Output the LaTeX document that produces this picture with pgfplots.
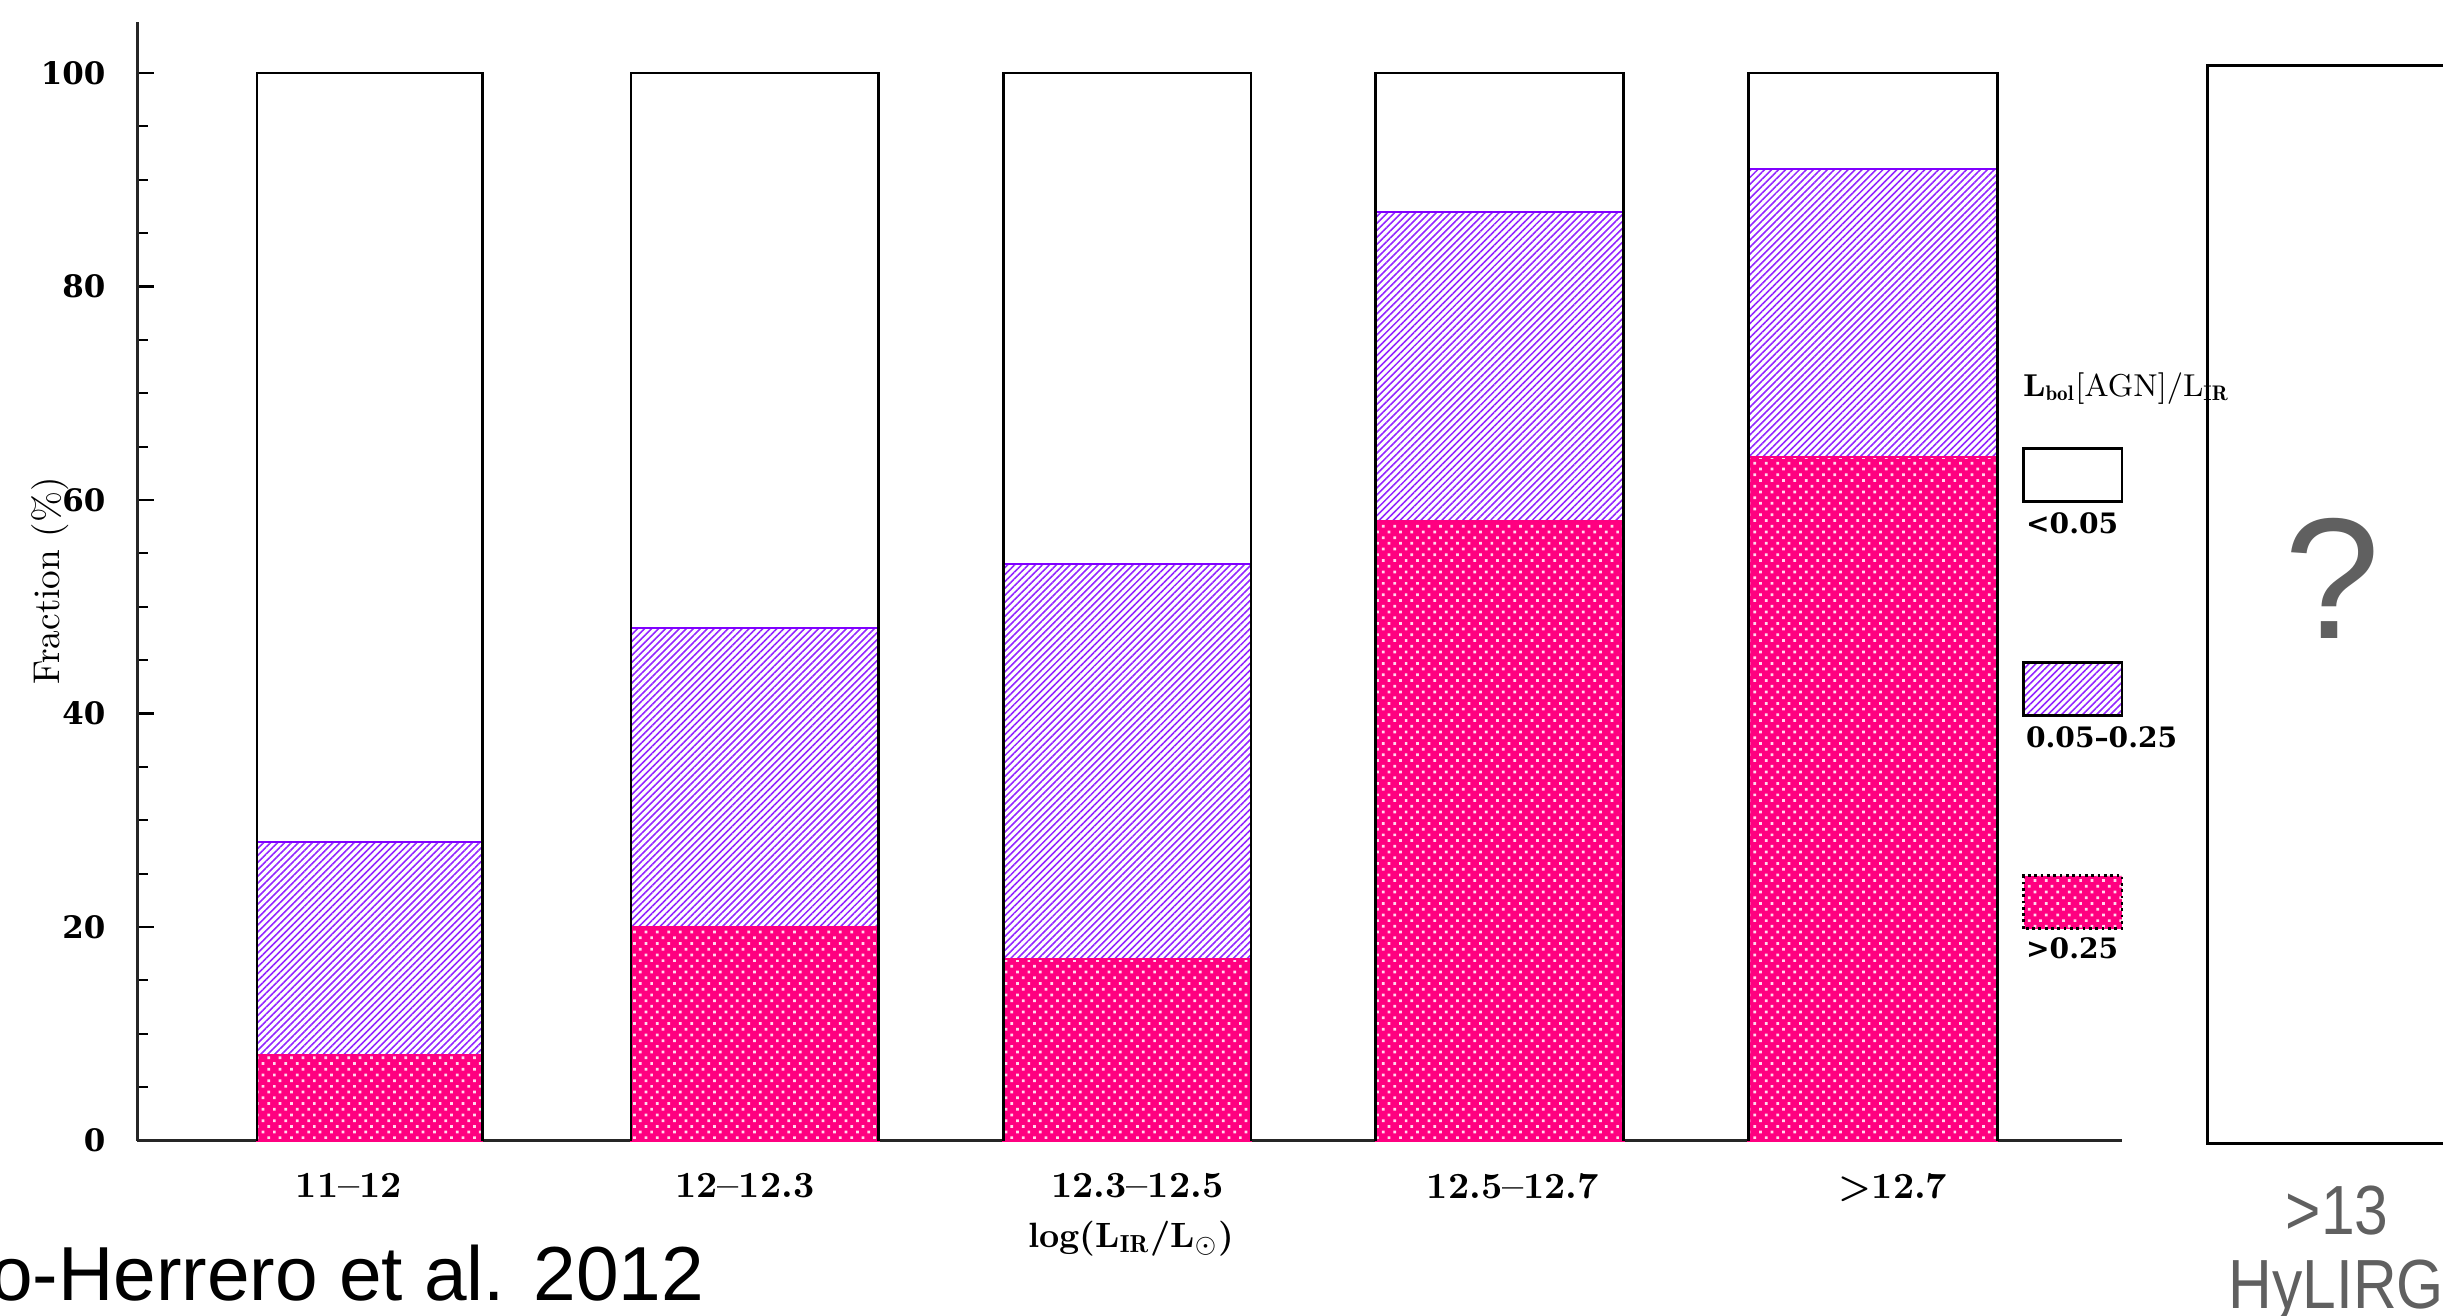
\documentclass[border=0pt]{standalone}
\usepackage{fontspec}
\usepackage{graphicx}
\usepackage{pgfplots}
\pgfplotsset{compat=1.18}
\usetikzlibrary{patterns.meta}
\newfontfamily\tickfont{DejaVu Serif}
\newfontfamily\helv{Liberation Sans}
\definecolor{agnpink}{RGB}{255,0,128}
\definecolor{agnpurple}{RGB}{128,0,255}
\definecolor{grytxt}{RGB}{96,96,96}
\tikzset{
  pinkfill/.style={fill=agnpink, draw=agnpink, line width=0.6pt, mark=none,
    postaction={pattern={Dots[angle=45,distance=2.3pt,radius=0.55pt]}, pattern color=white!85!agnpink}},
  purpfill/.style={draw=agnpurple, line width=0.6pt, mark=none,
    pattern={Lines[angle=45,distance=1.4pt,line width=0.45pt]}, pattern color=agnpurple!85!white},
  barout/.style={draw=black, line width=0.8pt, mark=none},
}
\begin{document}
\begin{tikzpicture}
\useasboundingbox (-1.371,-1.745) rectangle (23.059,11.405);
\clip (-1.371,-1.745) rectangle (23.059,11.405);
\begin{axis}[
  scale only axis, width=19.849cm, height=11.187cm,
  xmin=88, xmax=1362, ymin=0, ymax=104.8,
  enlargelimits=false, clip=false,
  axis lines*=left,
  axis line style={line width=0.9pt, black!85},
  xtick={224,478,730,971,1215},
  xticklabels={11--12,12--12.3,12.3--12.5,12.5--12.7,{>}12.7},
  x tick style={draw=none},
  xticklabel style={font=\bfseries\fontsize{10.5}{12}\selectfont, yshift=-5.8pt},
  ytick={0,20,40,60,80,100},
  yticklabels={0,20,40,60,80,100},
  minor ytick={5,10,15,25,30,35,45,50,55,65,70,75,85,90,95},
  tick align=inside,
  major tick length=4.8pt, minor tick length=3pt,
  y tick style={black, line width=0.6pt},
  yticklabel style={font=\tickfont\bfseries\fontsize{8.8}{10}\selectfont, xshift=-5.5pt},
  xlabel={\bfseries log(L$_{\mathbf{IR}}$/L$_{\odot}$)},
  xlabel style={at={(axis description cs:0.5008,-0.0877)}, anchor=center, font=\fontsize{10}{12}\selectfont},
  ylabel={Fraction (\%)},
  ylabel style={at={(axis description cs:-0.044,0.5)}, anchor=center, font=\fontsize{10.6}{12}\selectfont},
]
% bar 1: 11-12
\addplot[purpfill] coordinates {(165,8) (309.5,8) (309.5,28) (165,28)} -- cycle;
\addplot[pinkfill] coordinates {(165,0) (309.5,0) (309.5,8) (165,8)} -- cycle;
\addplot[barout] coordinates {(165,0) (165,100) (309.5,100) (309.5,0)};
% bar 2: 12-12.3
\addplot[purpfill] coordinates {(405,20) (564,20) (564,48) (405,48)} -- cycle;
\addplot[pinkfill] coordinates {(405,0) (564,0) (564,20) (405,20)} -- cycle;
\addplot[barout] coordinates {(405,0) (405,100) (564,100) (564,0)};
% bar 3: 12.3-12.5
\addplot[purpfill] coordinates {(644,17) (803,17) (803,54) (644,54)} -- cycle;
\addplot[pinkfill] coordinates {(644,0) (803,0) (803,17) (644,17)} -- cycle;
\addplot[barout] coordinates {(644,0) (644,100) (803,100) (803,0)};
% bar 4: 12.5-12.7
\addplot[purpfill] coordinates {(883,58) (1042,58) (1042,87) (883,87)} -- cycle;
\addplot[pinkfill] coordinates {(883,0) (1042,0) (1042,58) (883,58)} -- cycle;
\addplot[barout] coordinates {(883,0) (883,100) (1042,100) (1042,0)};
% bar 5: >12.7
\addplot[purpfill] coordinates {(1122,64) (1282,64) (1282,91) (1122,91)} -- cycle;
\addplot[pinkfill] coordinates {(1122,0) (1282,0) (1282,64) (1122,64)} -- cycle;
\addplot[barout] coordinates {(1122,0) (1122,100) (1282,100) (1282,0)};
% legend
\node[anchor=west, inner sep=0pt, font=\fontsize{9}{11}\selectfont] at (axis cs:1298,70.4)
  {\bfseries L$_{\mathbf{bol}}$\mdseries[AGN]/L$_{\mathbf{IR}}$};
\draw[black, line width=0.8pt, fill=white] (axis cs:1299,59.85) rectangle (axis cs:1362,64.8);
\draw[black, line width=0.8pt, pattern={Lines[angle=45,distance=1.4pt,line width=0.45pt]}, pattern color=agnpurple!85!white] (axis cs:1299,39.85) rectangle (axis cs:1362,44.8);
\fill[agnpink] (axis cs:1299,19.85) rectangle (axis cs:1362,24.8);
\draw[black, line width=0.8pt, densely dotted, pattern={Dots[angle=45,distance=2.3pt,radius=0.55pt]}, pattern color=white!85!agnpink] (axis cs:1299,19.85) rectangle (axis cs:1362,24.8);
\node[anchor=west, inner sep=0pt, font=\tickfont\bfseries\fontsize{8}{10}\selectfont] at (axis cs:1300,57.8) {<0.05};
\node[anchor=west, inner sep=0pt, font=\tickfont\bfseries\fontsize{8}{10}\selectfont] at (axis cs:1300,37.8) {0.05\textendash 0.25};
\node[anchor=west, inner sep=0pt, font=\tickfont\bfseries\fontsize{8}{10}\selectfont] at (axis cs:1300,18.0) {>0.25};
% right panel
\draw[black, line width=0.9pt] (axis cs:1700,100.7) -- (axis cs:1417,100.7) -- (axis cs:1417,-0.3) -- (axis cs:1700,-0.3);
\node[anchor=base, inner sep=0pt, text=grytxt, font=\helv\fontsize{49}{55}\selectfont] at (axis cs:1497,47.0) {?};
\node[anchor=base, inner sep=0pt, text=grytxt, font=\helv\fontsize{19.8}{24}\selectfont] at (axis cs:1500,-8.76) {\scalebox{0.87}[1]{>13}};
\node[anchor=base west, inner sep=0pt, text=grytxt, font=\helv\fontsize{19.8}{24}\selectfont] at (axis cs:1430,-15.77) {\scalebox{0.87}[1]{HyLIRGs}};
% credit
\node[anchor=base east, inner sep=0pt, font=\helv\fontsize{21.8}{26}\selectfont] at (axis cs:452.5,-15.0) {Alonso-Herrero et al. 2012};
\end{axis}
\end{tikzpicture}
\end{document}
